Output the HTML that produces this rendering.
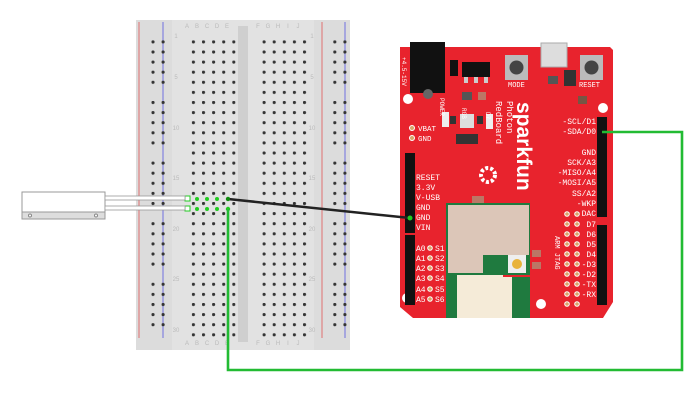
<!DOCTYPE html>
<html><head><style>body{margin:0;background:#fff}svg{display:block}</style></head><body>
<svg width="700" height="400" viewBox="0 0 700 400" xmlns="http://www.w3.org/2000/svg" font-family="Liberation Mono, monospace">
<defs>
<pattern id="h" x="0" y="0" width="10.1" height="10.1" patternUnits="userSpaceOnUse"><circle cx="1.5" cy="1.5" r="1.6" fill="#333"/></pattern>
</defs>
<!-- breadboard -->
<rect x="136" y="20" width="214" height="330" fill="#dcdcdc"/>
<rect x="172" y="20" width="142" height="330" fill="#e2e2e2"/>
<rect x="238" y="26" width="10" height="316" fill="#cfcfcf"/>
<line x1="139" y1="22" x2="139" y2="338" stroke="#e07070" stroke-width="1"/>
<line x1="163" y1="22" x2="163" y2="338" stroke="#7070e0" stroke-width="1"/>
<line x1="322" y1="22" x2="322" y2="338" stroke="#e07070" stroke-width="1"/>
<line x1="345" y1="22" x2="345" y2="338" stroke="#7070e0" stroke-width="1"/>
<rect x="185.5" y="34.5" width="50" height="303" fill="url(#h)"/>
<rect x="256.5" y="34.5" width="50" height="303" fill="url(#h)"/>
<g fill="url(#h)">
<rect x="145.5" y="39.5" width="20" height="50"/><rect x="145.5" y="99.5" width="20" height="50"/><rect x="145.5" y="159.5" width="20" height="50"/><rect x="145.5" y="219.5" width="20" height="50"/><rect x="145.5" y="279.5" width="20" height="50"/>
<rect x="327.5" y="39.5" width="20" height="50"/><rect x="327.5" y="99.5" width="20" height="50"/><rect x="327.5" y="159.5" width="20" height="50"/><rect x="327.5" y="219.5" width="20" height="50"/><rect x="327.5" y="279.5" width="20" height="50"/>
</g>
<g font-family="Liberation Sans, sans-serif" font-size="6" fill="#bbb" text-anchor="middle">
<text x="187" y="28">A</text><text x="197" y="28">B</text><text x="207" y="28">C</text><text x="217" y="28">D</text><text x="227" y="28">E</text>
<text x="258" y="28">F</text><text x="268" y="28">G</text><text x="278" y="28">H</text><text x="288" y="28">I</text><text x="298" y="28">J</text>
<text x="187" y="345">A</text><text x="197" y="345">B</text><text x="207" y="345">C</text><text x="217" y="345">D</text><text x="227" y="345">E</text>
<text x="258" y="345">F</text><text x="268" y="345">G</text><text x="278" y="345">H</text><text x="288" y="345">I</text><text x="298" y="345">J</text>
<text x="176" y="38">1</text><text x="176" y="79">5</text><text x="176" y="130">10</text><text x="176" y="180">15</text><text x="176" y="231">20</text><text x="176" y="281">25</text><text x="176" y="332">30</text>
<text x="312" y="38">1</text><text x="312" y="79">5</text><text x="312" y="130">10</text><text x="312" y="180">15</text><text x="312" y="231">20</text><text x="312" y="281">25</text><text x="312" y="332">30</text>
</g>
<g fill="#2c2">
<circle cx="197" cy="199" r="2"/><circle cx="207" cy="199" r="2"/><circle cx="217" cy="199" r="2"/><circle cx="228" cy="199" r="2.2"/>
<circle cx="197" cy="209" r="2"/><circle cx="207" cy="209" r="2"/><circle cx="217" cy="209" r="2"/><circle cx="228" cy="209" r="2.2"/>
</g>
<rect x="185" y="196" width="5" height="5" fill="#fff" stroke="#2c2"/>
<rect x="185" y="206" width="5" height="5" fill="#fff" stroke="#2c2"/>
<!-- sensor -->
<rect x="22" y="192" width="83" height="27" fill="#fff" stroke="#999"/>
<rect x="22" y="212" width="83" height="7" fill="#ddd" stroke="#999"/>
<circle cx="30" cy="215.5" r="1.5" fill="#fff" stroke="#888"/><circle cx="96" cy="215.5" r="1.5" fill="#fff" stroke="#888"/>
<rect x="105" y="196" width="80" height="4" fill="#fff" stroke="#999" stroke-width="0.8"/>
<rect x="105" y="206" width="80" height="4" fill="#fff" stroke="#999" stroke-width="0.8"/>
<!-- redboard -->
<path d="M400 47 H610 L613 50 V302 L603 318 H413 L400 307 Z" fill="#e8232d"/>
<rect x="410" y="42" width="35" height="51" fill="#111"/>
<circle cx="428" cy="94" r="5" fill="#666"/>
<rect x="541" y="43" width="26" height="24" fill="#ddd" stroke="#aaa"/>
<rect x="505" y="55" width="23" height="25" fill="#bbb"/><circle cx="516.5" cy="67.5" r="7" fill="#444"/>
<rect x="580" y="55" width="23" height="25" fill="#bbb"/><circle cx="591.5" cy="67.5" r="7" fill="#444"/>
<rect x="462" y="62" width="28" height="15" fill="#111"/><rect x="450" y="60" width="8" height="16" fill="#111"/>
<rect x="464" y="77" width="4" height="6" fill="#ccc"/><rect x="474" y="77" width="4" height="6" fill="#ccc"/><rect x="484" y="77" width="4" height="6" fill="#ccc"/>
<rect x="564" y="70" width="12" height="16" fill="#333"/>
<rect x="548" y="76" width="10" height="8" fill="#555"/><rect x="462" y="92" width="10" height="8" fill="#555"/><rect x="478" y="92" width="8" height="8" fill="#b76"/><rect x="578" y="96" width="9" height="8" fill="#754"/>
<rect x="442" y="112" width="7" height="15" fill="#eee"/><rect x="460" y="114" width="14" height="14" fill="#ddd"/><rect x="486" y="114" width="7" height="15" fill="#eee"/>
<rect x="450" y="116" width="6" height="8" fill="#333"/><rect x="477" y="116" width="6" height="8" fill="#333"/>
<rect x="456" y="134" width="22" height="10" fill="#333"/>
<rect x="472" y="196" width="12" height="8" fill="#b76"/>
<circle cx="408" cy="99" r="5" fill="#fff"/><circle cx="603" cy="108" r="5" fill="#fff"/><circle cx="407" cy="298" r="5" fill="#fff"/><circle cx="541" cy="304" r="5" fill="#fff"/>
<text x="0" y="0" font-size="6" fill="#fff" transform="translate(402,57) rotate(90)">+4.5-15V</text>
<text x="0" y="0" font-size="6" fill="#fff" transform="translate(440,98) rotate(90)">POWER</text>
<text x="0" y="0" font-size="6" fill="#fff" transform="translate(462,108) rotate(90)">RGB</text>
<text x="0" y="0" font-size="6" fill="#fff" transform="translate(486,112) rotate(90)">D7</text>
<text x="508" y="87" font-size="7" fill="#fff">MODE</text><text x="579" y="87" font-size="7" fill="#fff">RESET</text>
<text x="0" y="0" font-size="21" font-family="Liberation Sans, sans-serif" font-weight="bold" fill="#fff" transform="translate(517,102) rotate(90)">sparkfun</text>
<text x="0" y="0" font-size="9" fill="#fff" transform="translate(507,101) rotate(90)">Photon</text>
<text x="0" y="0" font-size="9" fill="#fff" transform="translate(496,101) rotate(90)">RedBoard</text>
<circle cx="488" cy="175" r="7" fill="none" stroke="#fff" stroke-width="4" stroke-dasharray="3 2"/>
<circle cx="412" cy="128" r="2.5" fill="#d9a66b" stroke="#fff"/><circle cx="412" cy="138" r="2.5" fill="#d9a66b" stroke="#fff"/>
<text x="418" y="131" font-size="7.5" fill="#fff">VBAT</text><text x="418" y="141" font-size="7.5" fill="#fff">GND</text>
<rect x="405" y="153" width="10" height="80" fill="#111"/><rect x="405" y="235" width="10" height="70" fill="#111"/>
<rect x="597" y="117" width="10" height="100" fill="#111"/><rect x="597" y="225" width="10" height="80" fill="#111"/>
<!-- module -->
<rect x="446" y="203" width="84" height="115" fill="#1f7a3f"/>
<path d="M448 205 H529 V255 H483 V273 H448 Z" fill="#dcc6b8"/>
<rect x="457" y="275" width="55" height="43" fill="#f5ebd8"/>
<rect x="508" y="255" width="18" height="18" fill="#eee"/><circle cx="517" cy="264" r="5" fill="#e8b33a"/>
<line x1="503" y1="276" x2="530" y2="276" stroke="#e8232d" stroke-width="2"/>
<rect x="532" y="250" width="9" height="7" fill="#b76"/><rect x="532" y="262" width="9" height="7" fill="#b76"/>
<g font-size="8" fill="#fff">
<text x="416" y="180">RESET</text><text x="416" y="190">3.3V</text><text x="416" y="200">V-USB</text><text x="416" y="210">GND</text><text x="416" y="220">GND</text><text x="416" y="230">VIN</text>
<text x="416" y="251">A0</text><text x="416" y="261">A1</text><text x="416" y="271">A2</text><text x="416" y="281">A3</text><text x="416" y="292">A4</text><text x="416" y="302">A5</text>
<text x="435" y="251">S1</text><text x="435" y="261">S2</text><text x="435" y="271">S3</text><text x="435" y="281">S4</text><text x="435" y="292">S5</text><text x="435" y="302">S6</text>
</g>
<g fill="#d9a66b" stroke="#fff">
<circle cx="430" cy="248" r="2.3"/><circle cx="430" cy="258" r="2.3"/><circle cx="430" cy="268" r="2.3"/><circle cx="430" cy="278" r="2.3"/><circle cx="430" cy="289" r="2.3"/><circle cx="430" cy="299" r="2.3"/>
</g>
<g font-size="8" fill="#fff" text-anchor="end">
<text x="596" y="124">-SCL/D1</text><text x="596" y="134">-SDA/D0</text><text x="596" y="155">GND</text><text x="596" y="165">SCK/A3</text><text x="596" y="175">-MISO/A4</text><text x="596" y="185">-MOSI/A5</text><text x="596" y="196">SS/A2</text><text x="596" y="206">-WKP</text><text x="596" y="216">DAC</text>
<text x="596" y="227">D7</text><text x="596" y="237">D6</text><text x="596" y="247">D5</text><text x="596" y="257">D4</text><text x="596" y="267">-D3</text><text x="596" y="277">-D2</text><text x="596" y="287">-TX</text><text x="596" y="297">-RX</text>
</g>
<g fill="#d9a66b" stroke="#fff">
<circle cx="567" cy="214" r="2.3"/><circle cx="577" cy="214" r="2.3"/><circle cx="567" cy="224" r="2.3"/><circle cx="577" cy="224" r="2.3"/><circle cx="567" cy="234" r="2.3"/><circle cx="577" cy="234" r="2.3"/><circle cx="567" cy="244" r="2.3"/><circle cx="577" cy="244" r="2.3"/><circle cx="567" cy="254" r="2.3"/><circle cx="577" cy="254" r="2.3"/><circle cx="567" cy="264" r="2.3"/><circle cx="577" cy="264" r="2.3"/><circle cx="567" cy="274" r="2.3"/><circle cx="577" cy="274" r="2.3"/><circle cx="567" cy="284" r="2.3"/><circle cx="577" cy="284" r="2.3"/><circle cx="567" cy="294" r="2.3"/><circle cx="577" cy="294" r="2.3"/><circle cx="567" cy="304" r="2.3"/><circle cx="577" cy="304" r="2.3"/>
</g>
<text x="0" y="0" font-size="7" fill="#fff" transform="translate(555,236) rotate(90)">ARM JTAG</text>
<!-- wires -->
<line x1="228" y1="199" x2="410" y2="218" stroke="#222" stroke-width="2.5"/>
<circle cx="410" cy="218" r="2.5" fill="#2c2"/>
<polyline points="228,209 228,370 682,370 682,132 602,132" fill="none" stroke="#22bb33" stroke-width="2.6"/>
<circle cx="228" cy="199" r="2" fill="#181"/>
</svg>
</body></html>
